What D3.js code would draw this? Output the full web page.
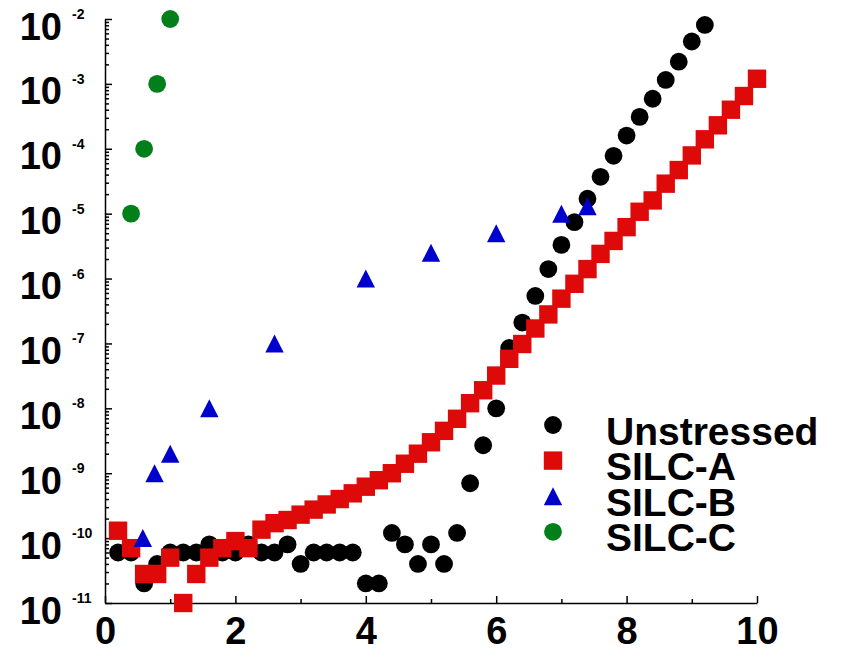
<!DOCTYPE html>
<html>
<head>
<meta charset="utf-8">
<script src="https://cdn.jsdelivr.net/npm/d3@7"></script>
<style>
  body { margin: 0; background: #fff; }
  svg text { font-family: "Liberation Sans", Arial, sans-serif; font-weight: bold; }
</style>
</head>
<body>
<div id="chart"></div>
<script>
// ---------------- data ----------------
const unstressedX = [0.2, 0.4, 0.6, 0.8, 1.0, 1.2, 1.4, 1.6, 1.8, 2.0, 2.2, 2.4, 2.6, 2.8, 3.0, 3.2,
  3.4, 3.6, 3.8, 4.0, 4.2, 4.4, 4.6, 4.8, 5.0, 5.2, 5.4, 5.6, 5.8, 6.0, 6.2, 6.4, 6.6, 6.8, 7.0,
  7.2, 7.4, 7.6, 7.8, 8.0, 8.2, 8.4, 8.6, 8.8, 9.0, 9.2];
const unstressedY = [6e-11, 6e-11, 2e-11, 4e-11, 6e-11, 6e-11, 6e-11, 8e-11, 6e-11, 6e-11, 8e-11,
  6e-11, 6e-11, 8e-11, 4e-11, 6e-11, 6e-11, 6e-11, 6e-11, 2e-11, 2e-11, 1.2e-10, 8e-11, 4e-11,
  8e-11, 4e-11, 1.2e-10, 7e-10, 2.7e-9, 1e-8, 8.5e-8, 2.1e-7, 5.4e-7, 1.4e-6, 3.3e-6, 7.4e-6,
  1.7e-5, 3.7e-5, 7.8e-5, 1.6e-4, 3.1e-4, 5.9e-4, 1.15e-3, 2.2e-3, 4.5e-3, 8.1e-3];

const silcAX = [0.2, 0.4, 0.6, 0.8, 1.0, 1.2, 1.4, 1.6, 1.8, 2.0, 2.2, 2.4, 2.6, 2.8, 3.0, 3.2,
  3.4, 3.6, 3.8, 4.0, 4.2, 4.4, 4.6, 4.8, 5.0, 5.2, 5.4, 5.6, 5.8, 6.0, 6.2, 6.4, 6.6, 6.8, 7.0,
  7.2, 7.4, 7.6, 7.8, 8.0, 8.2, 8.4, 8.6, 8.8, 9.0, 9.2, 9.4, 9.6, 9.8, 10.0];
const silcAY = [1.3e-10, 7e-11, 2.8e-11, 2.8e-11, 5e-11, 1e-11, 2.8e-11, 5e-11, 7e-11, 9e-11, 7e-11,
  1.35e-10, 1.7e-10, 1.9e-10, 2.3e-10, 2.75e-10, 3.3e-10, 4e-10, 4.9e-10, 6.2e-10, 7.8e-10, 1.0e-9,
  1.4e-9, 2e-9, 3e-9, 4.5e-9, 6.9e-9, 1.2e-8, 1.9e-8, 3.2e-8, 5.8e-8, 9.8e-8, 1.7e-7, 2.8e-7,
  4.9e-7, 8.3e-7, 1.4e-6, 2.4e-6, 3.8e-6, 6.2e-6, 1.07e-5, 1.6e-5, 2.9e-5, 4.7e-5, 7.9e-5,
  1.4e-4, 2.3e-4, 4e-4, 6.5e-4, 1.2e-3];

const silcBX = [0.58, 0.76, 1.0, 1.6, 2.6, 4.0, 5.0, 6.0, 7.0, 7.4];
const silcBY = [1e-10, 1e-9, 2e-9, 1e-8, 1e-7, 1e-6, 2.5e-6, 5e-6, 1e-5, 1.3e-5];

const silcCX = [0.4, 0.6, 0.8, 1.0];
const silcCY = [1e-5, 1e-4, 1e-3, 1e-2];

const seriesNames = ["Unstressed", "SILC-A", "SILC-B", "SILC-C"];
const seriesColors = ["#000000", "#de0a0a", "#0000cc", "#007f1a"];
const seriesShapes = ["circle", "square", "triangle", "circle"];

const xTicks = [0, 2, 4, 6, 8, 10];
const xMinorTicks = [1, 3, 5, 7, 9];
const yExponents = [-2, -3, -4, -5, -6, -7, -8, -9, -10, -11];

// ---------------- chart ----------------
const W = 846, H = 658;

let svg = d3.select("#chart")
            .append("svg")
            .attr("width", W)
            .attr("height", H);

let x = d3.scaleLinear().domain([0, 10]).range([105, 757]);
let y = d3.scaleLog().domain([1e-11, 1e-2]).range([603, 19]);

// minor log ticks 2..9 in every decade
let yMinor = [];
yExponents.forEach(e => {
  if (e === -2) return;
  for (let m = 2; m <= 9; m++) yMinor.push(m * Math.pow(10, e));
});

// x axis (ticks pointing inward)
svg.append("g")
   .attr("transform", "translate(0," + y(1e-11) + ")")
   .call(d3.axisBottom(x).tickValues(xMinorTicks).tickSize(-4).tickFormat(""))
   .call(g => g.select(".domain").remove());

svg.append("g")
   .attr("transform", "translate(0," + y(1e-11) + ")")
   .call(d3.axisBottom(x).tickValues(xTicks).tickSizeInner(-7).tickSizeOuter(0).tickPadding(14))
   .call(g => g.selectAll("text").attr("font-size", 38).attr("fill", "#000")
                .attr("dy", "0.71em"));

// y axis (ticks pointing inward)
svg.append("g")
   .attr("transform", "translate(" + x(0) + ",0)")
   .call(d3.axisLeft(y).tickValues(yMinor).tickSize(-4).tickFormat(""))
   .call(g => g.select(".domain").remove());

svg.append("g")
   .attr("transform", "translate(" + x(0) + ",0)")
   .call(d3.axisLeft(y).tickValues(yExponents.map(e => Math.pow(10, e)))
                       .tickSizeInner(-7).tickSizeOuter(0).tickFormat(""));

svg.selectAll("path.domain, .tick line")
   .attr("stroke", "#000")
   .attr("stroke-width", 1.5);

// y tick labels: "10" with a raised exponent
let ylab = svg.append("g").selectAll("g")
              .data(yExponents)
              .enter()
              .append("g");

ylab.append("text")
    .attr("x", 62)
    .attr("y", e => y(Math.pow(10, e)) + 20.5)
    .attr("text-anchor", "end")
    .attr("font-size", 38)
    .text("10");

ylab.append("text")
    .attr("x", 72)
    .attr("y", e => y(Math.pow(10, e)))
    .attr("text-anchor", "start")
    .attr("font-size", 14)
    .text(e => String(e));

// ---------------- markers ----------------
function marker(sel, shape, color) {
  if (shape === "circle") {
    sel.append("circle").attr("r", 8.9).attr("fill", color);
  } else if (shape === "square") {
    sel.append("rect").attr("x", -9.2).attr("y", -9.2)
       .attr("width", 18.4).attr("height", 18.4).attr("fill", color);
  } else {
    sel.append("path").attr("d", "M0,-9L9.2,9L-9.2,9Z").attr("fill", color);
  }
}

const seriesData = [
  d3.zip(unstressedX, unstressedY),
  d3.zip(silcAX, silcAY),
  d3.zip(silcBX, silcBY),
  d3.zip(silcCX, silcCY)
];

seriesData.forEach((pts, i) => {
  let g = svg.append("g");
  g.selectAll("g")
   .data(pts)
   .enter()
   .append("g")
   .attr("transform", d => "translate(" + x(d[0]) + "," + y(d[1]) + ")")
   .each(function () { marker(d3.select(this), seriesShapes[i], seriesColors[i]); });
});

// ---------------- legend ----------------
let leg = svg.append("g")
             .selectAll("g")
             .data(seriesNames)
             .enter()
             .append("g")
             .attr("transform", (d, i) => "translate(553," + (425 + i * 35.6) + ")");

leg.each(function (d, i) { marker(d3.select(this), seriesShapes[i], seriesColors[i]); });

leg.append("text")
   .attr("x", 53)
   .attr("y", 19.5)
   .attr("font-size", 39)
   .text(d => d);
</script>
</body>
</html>
